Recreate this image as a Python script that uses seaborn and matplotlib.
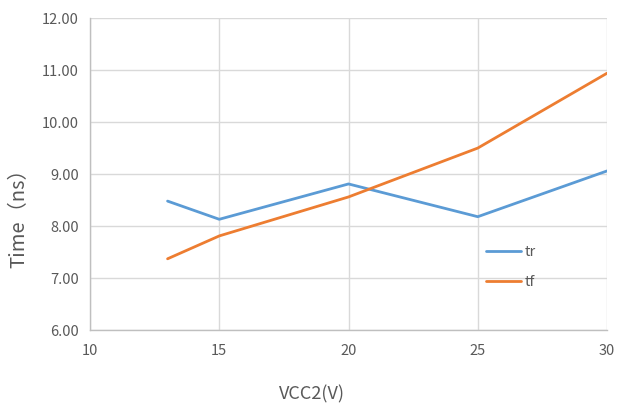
import matplotlib
matplotlib.use("Agg")
import matplotlib.pyplot as plt
import seaborn as sns
import pandas as pd

# Supply voltage (V) and switching times (ns)
vcc2 = [13, 15, 20, 25, 30]
tr = [8.48, 8.13, 8.81, 8.18, 9.06]
tf = [7.37, 7.81, 8.56, 9.50, 10.94]
series_names = ["tr", "tf"]
colors = ["#5B9BD5", "#ED7D31"]
y_ticks = [6, 7, 8, 9, 10, 11, 12]
x_ticks = [10, 15, 20, 25, 30]

df = pd.DataFrame({
    "VCC2": vcc2 * 2,
    "Time": tr + tf,
    "series": [series_names[0]] * len(vcc2) + [series_names[1]] * len(vcc2),
})

sns.set_style("white")
plt.rcParams["font.family"] = ["Noto Sans CJK SC", "DejaVu Sans"]

fig = plt.figure(figsize=(6.17, 4.12), dpi=100)
ax = fig.add_axes([0.1459, 0.199, 0.8379, 0.757])

sns.lineplot(data=df, x="VCC2", y="Time", hue="series",
             palette=dict(zip(series_names, colors)), linewidth=2.0,
             ax=ax, legend=True)

ax.set_xlim(10, 30)
ax.set_ylim(6, 12)
ax.set_xticks(x_ticks)
ax.set_yticks(y_ticks)
ax.set_yticklabels([f"{v:.2f}" for v in y_ticks])
ax.grid(True, color="#d9d9d9", linewidth=1.0)
ax.set_axisbelow(True)

for side in ["top", "right"]:
    ax.spines[side].set_visible(False)
for side in ["left", "bottom"]:
    ax.spines[side].set_color("#bfbfbf")
    ax.spines[side].set_linewidth(1.0)

ax.tick_params(axis="both", length=0, labelsize=10.5, colors="#595959")
ax.tick_params(axis="y", pad=8)
ax.tick_params(axis="x", pad=10)

ax.set_xlabel("VCC2(V)", fontsize=13, color="#595959")
ax.xaxis.set_label_coords(0.43, -0.178)
ax.set_ylabel("Time（ns）", fontsize=14.5, color="#595959")
ax.yaxis.set_label_coords(-0.118, 0.375)

leg = ax.legend(loc="lower left", bbox_to_anchor=(0.74, 0.09), frameon=False,
                fontsize=10.5, handlelength=2.4, labelspacing=1.1,
                handletextpad=0.3)
for t in leg.get_texts():
    t.set_color("#595959")

fig.savefig("out.png", dpi=100)
